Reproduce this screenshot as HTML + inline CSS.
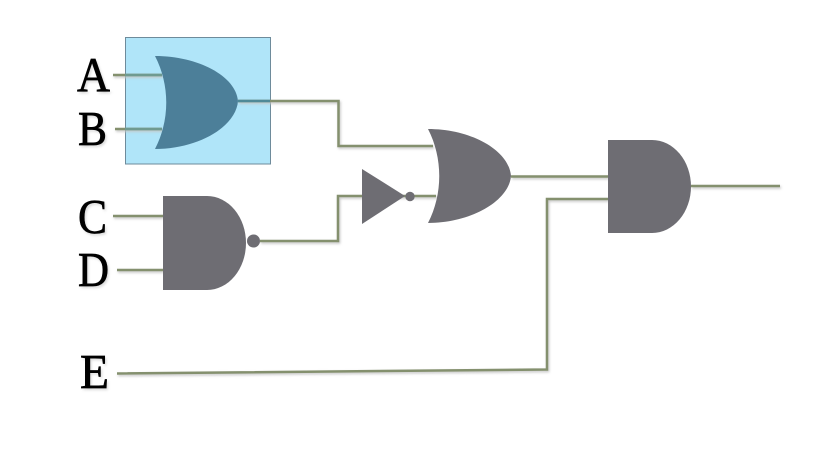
<!DOCTYPE html>
<html>
<head>
<meta charset="utf-8">
<style>
html,body{margin:0;padding:0;background:#fff;width:817px;height:454px;overflow:hidden}
svg{display:block}
text{font-family:"Liberation Serif",serif;font-size:49px;fill:#000}
</style>
</head>
<body>
<svg width="817" height="454" viewBox="0 0 817 454" xmlns="http://www.w3.org/2000/svg">
<defs>
<filter id="s" x="-20%" y="-20%" width="140%" height="140%"><feGaussianBlur stdDeviation="1.2"/></filter>
</defs>
<rect x="125.5" y="37.5" width="145" height="126.5" fill="#b0e5f9" stroke="#6e8b9b" stroke-width="1"/>
<!-- wire shadows -->
<g fill="none" stroke="#c4c4c4" stroke-width="2.5" transform="translate(1,1.5)" filter="url(#s)">
<path d="M113 75H162M115 129H162M238 101H338.5V146H433"/>
<path d="M113 216H163M117 270H163M260 241H338V196H436"/>
<path d="M117 373.5L547 369.5V199H608M511 176.5H608M691 186H780"/>
</g>
<g fill="none" stroke="#84906e" stroke-width="2.5">
<path d="M113 75H162M115 129H162M238 101H338.5V146H433"/>
<path d="M113 216H163M117 270H163M260 241H338V196H436"/>
<path d="M117 373.5L547 369.5V199H608M511 176.5H608M691 186H780"/>
</g>
<path d="M238 101H270" stroke="#4f8a98" stroke-width="2.5" fill="none"/>
<path d="M125 75H162M125 129H162" stroke="#6f9a90" stroke-width="2.5" fill="none"/>
<!-- OR gate 1 -->
<path d="M155 56C198 56 236 76 238 101C236 127 198 149 155 149C170 120 170 85 155 56Z" fill="#4c7f99"/>
<!-- NAND -->
<path d="M163 196H207A39 47 0 0 1 207 290H163Z" fill="#6e6d73"/>
<circle cx="253.5" cy="241" r="6.5" fill="#6e6d73"/>
<!-- NOT -->
<path d="M362 169L405 196L362 224Z" fill="#6e6d73"/>
<circle cx="410" cy="196.5" r="4.7" fill="#6e6d73"/>
<!-- OR gate 2 -->
<path d="M428 129C471 129 509 150 511 176C509 201 471 223 428 223C443 194 443 158 428 129Z" fill="#6e6d73"/>
<!-- AND -->
<path d="M608 140H652A39 46.5 0 0 1 652 233H608Z" fill="#6e6d73"/>
<!-- labels -->
<g opacity=".4" transform="translate(1.5,2)" filter="url(#s)">
<text x="77" y="91" textLength="33" lengthAdjust="spacingAndGlyphs" style="fill:#999">A</text>
<text x="78" y="145" textLength="29" lengthAdjust="spacingAndGlyphs" style="fill:#999">B</text>
<text x="78" y="233" textLength="29" lengthAdjust="spacingAndGlyphs" style="fill:#999">C</text>
<text x="78" y="286" textLength="31" lengthAdjust="spacingAndGlyphs" style="fill:#999">D</text>
<text x="80" y="388" textLength="29" lengthAdjust="spacingAndGlyphs" style="fill:#999">E</text>
</g>
<g stroke="#000" stroke-width=".7">
<text x="77" y="91" textLength="33" lengthAdjust="spacingAndGlyphs">A</text>
<text x="78" y="145" textLength="29" lengthAdjust="spacingAndGlyphs">B</text>
<text x="78" y="233" textLength="29" lengthAdjust="spacingAndGlyphs">C</text>
<text x="78" y="286" textLength="31" lengthAdjust="spacingAndGlyphs">D</text>
<text x="80" y="388" textLength="29" lengthAdjust="spacingAndGlyphs">E</text>
</g>
</svg>
</body>
</html>
